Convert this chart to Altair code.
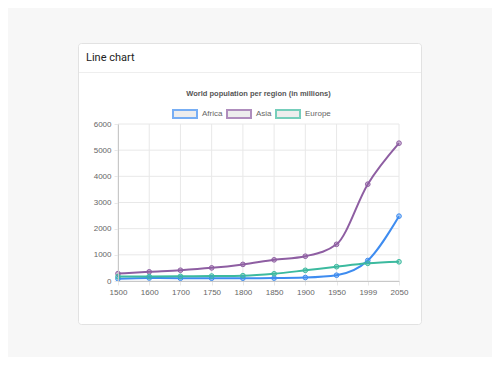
import altair as alt
import pandas as pd

years = ["1500", "1600", "1700", "1750", "1800", "1850", "1900", "1950", "1999", "2050"]
africa = [86, 114, 106, 106, 107, 111, 133, 221, 783, 2478]
asia = [282, 350, 411, 502, 635, 809, 947, 1402, 3700, 5267]
europe = [168, 170, 178, 190, 203, 276, 408, 547, 675, 734]
series_names = ["Africa", "Asia", "Europe"]
series_colors = ["#3e8cf0", "#8e5ea2", "#3cba9f"]
y_ticks = [0, 1000, 2000, 3000, 4000, 5000, 6000]

rows = []
for name, vals in zip(series_names, [africa, asia, europe]):
    for yr, v in zip(years, vals):
        rows.append({"year": yr, "region": name, "pop": v})
df = pd.DataFrame(rows)

FONT = "Liberation Sans"
GRID = "#e8e8e8"
one = alt.Data(values=[{}])

card = alt.Chart(one).mark_rect(fill="white", stroke="#e2e2e2", strokeWidth=1, cornerRadius=3).encode(
    x=alt.value(-39.5), x2=alt.value(303.5), y=alt.value(-80.5), y2=alt.value(200.5)
)
sep = alt.Chart(one).mark_rule(color="#eeeeee", strokeWidth=1).encode(
    x=alt.value(-39), x2=alt.value(303), y=alt.value(-51.5)
)
header = alt.Chart(one).mark_text(
    text="Line chart", font="Roboto", fontSize=11, color="#222", align="left", baseline="middle"
).encode(x=alt.value(-32), y=alt.value(-66))
title = alt.Chart(one).mark_text(
    text="World population per region (in millions)", font=FONT, fontSize=7.5,
    fontWeight="bold", color="#555", align="center", baseline="middle"
).encode(x=alt.value(140.5), y=alt.value(-30))

xscale = alt.Scale(type="point", padding=0, domain=years)
yscale = alt.Scale(domain=[0, 6000], nice=False)

def sscale():
    return alt.Scale(domain=series_names, range=series_colors)

axis_common = dict(title=None, grid=False, tickSize=4, labelPadding=3, zindex=1,
                   labelFont=FONT, labelFontSize=8, labelColor="#666",
                   tickColor=GRID, domainColor="#c8c8c8")
x = alt.X("year:O", sort=years, scale=xscale, axis=alt.Axis(labelAngle=0, **axis_common))
y = alt.Y("pop:Q", scale=yscale, axis=alt.Axis(values=y_ticks, format="d", **axis_common))

vgrid = alt.Chart(pd.DataFrame({"year": years})).mark_rule(color=GRID, strokeWidth=1).encode(x=x)
hgrid = alt.Chart(pd.DataFrame({"pop": y_ticks})).mark_rule(color=GRID, strokeWidth=1).encode(y=y)

legend = alt.Legend(
    title=None, orient="none", direction="horizontal", legendX=54, legendY=-16,
    symbolType="M-1,-0.8H3.8V0.8H-1Z", symbolSize=100, symbolStrokeWidth=2,
    symbolFillColor="#e6e6e6",
    labelOffset=18, columnPadding=0,
    labelFont=FONT, labelFontSize=8, labelColor="#666",
)

lines = alt.Chart(df).mark_line(interpolate="monotone", strokeWidth=2).encode(
    x=x, y=y, stroke=alt.Stroke("region:N", scale=sscale(), legend=None)
)
points = alt.Chart(df).mark_point(filled=True, size=22, strokeWidth=1, fillOpacity=0.4).encode(
    x=x, y=y,
    stroke=alt.Stroke("region:N", scale=sscale(), legend=None),
    color=alt.Color("region:N", scale=sscale(), legend=None),
)
# legend-only layer (no rows): gray box fill, coloured box outline
legend_layer = alt.Chart(df).transform_filter("false").mark_point(filled=True).encode(
    fill=alt.Fill("region:N", scale=alt.Scale(domain=series_names, range=["#e6e6e6"] * 3), legend=legend),
    stroke=alt.Stroke("region:N", scale=sscale(), legend=legend),
)

chart = alt.layer(card, sep, header, title, vgrid, hgrid, lines, points, legend_layer).resolve_scale(
    stroke="independent"
).properties(
    width=281, height=157,
    autosize=alt.AutoSizeParams(type="none"),
    padding={"left": 110, "top": 116, "right": 93, "bottom": 76},
    background="#f7f7f7",
).configure_view(stroke=None)

chart.save("out.html", embed_options={"renderer": "svg", "actions": False})
